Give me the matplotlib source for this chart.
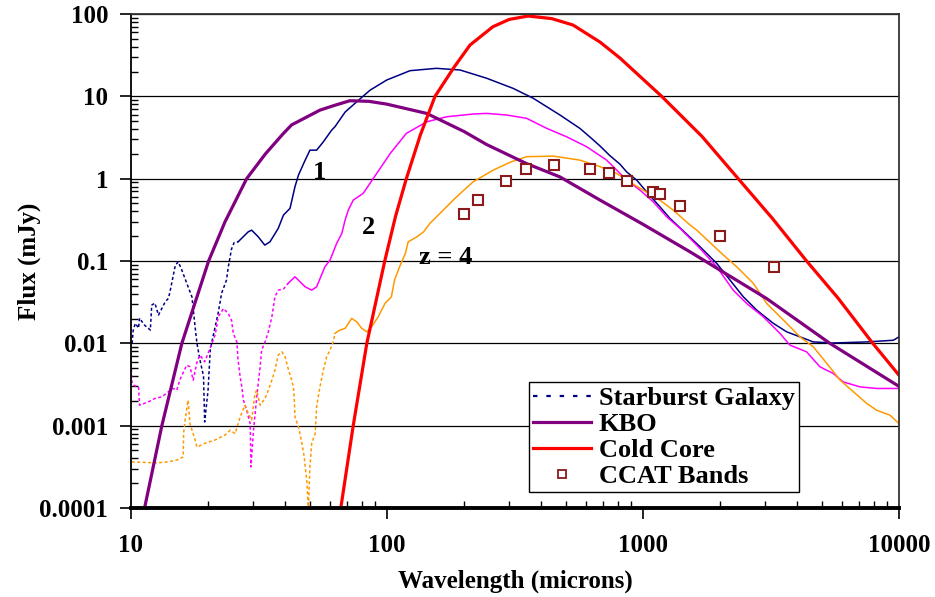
import matplotlib
matplotlib.use("Agg")
import matplotlib.pyplot as plt
import numpy as np
from matplotlib.lines import Line2D
from matplotlib.ticker import LogLocator, FuncFormatter, NullFormatter

plt.rcParams['font.family'] = ['Liberation Serif', 'DejaVu Serif']
plt.rcParams['font.weight'] = 'bold'
plt.rcParams['axes.labelweight'] = 'bold'

# starburst galaxy template, z = 1 (wavelength in microns, flux in mJy)
starburst_wl = [10.1, 10.2, 10.4, 10.7, 10.8, 11.3, 11.9, 12.05, 12.4, 12.8, 13.6, 14.0,
                14.2, 14.9, 15.3, 15.8, 16.5, 17.3, 17.8, 18.1, 18.6, 19.2, 19.4, 20.0,
                20.4, 20.9, 21.9, 22.6, 23.6, 24.0, 24.7, 25.3, 26.2, 28.7, 29.6, 31.4,
                33.3, 34.9, 37.6, 39.4, 41.8, 43.7, 45.1, 47.9, 50.0, 53.1, 56.4, 60.8,
                62.6, 68.6, 76.2, 85.9, 99.8, 123, 156, 193, 245, 311, 373, 474, 567,
                621, 679, 743, 813, 863, 945, 1033, 1164, 1274, 1670, 1941, 2188, 2466,
                2782, 3228, 3641, 4102, 4624, 5536, 7475, 9506, 10000]
starburst_flux = [0.0100, 0.0145, 0.0175, 0.0153, 0.0202, 0.0166, 0.0145, 0.0291, 0.0308,
                  0.022, 0.0319, 0.0352, 0.0423, 0.089, 0.0977, 0.0774, 0.054, 0.0367,
                  0.0159, 0.0100, 0.00625, 0.0040, 0.00111, 0.0027, 0.0083, 0.012, 0.0233,
                  0.0407, 0.0586, 0.085, 0.14, 0.168, 0.171, 0.226, 0.237, 0.197, 0.156,
                  0.171, 0.249, 0.361, 0.436, 0.798, 1.107, 1.68, 2.22, 2.22, 2.80, 3.89,
                  4.27, 6.44, 8.60, 11.9, 15.8, 20.5, 21.9, 20.9, 16.6, 12.5, 9.46, 5.93,
                  4.08, 3.2, 2.5, 1.9, 1.5, 1.21, 0.96, 0.693, 0.456, 0.33, 0.149, 0.0935,
                  0.0586, 0.0367, 0.0253, 0.0175, 0.0138, 0.012, 0.0104, 0.0101, 0.0104,
                  0.0109, 0.012]

# same template at z = 2
z2_wl = [10.0, 10.05, 10.1, 10.2, 10.7, 10.8, 11.7, 12.4, 13.2, 14.0, 14.6, 15.1, 15.5,
         16.5, 17.0, 17.5, 18.1, 18.6, 19.4, 20.0, 20.7, 21.3, 21.6, 21.9, 23.0, 24.0,
         24.7, 25.1, 25.9, 26.2, 26.7, 27.1, 27.5, 28.3, 29.2, 29.3, 29.4, 30.1, 31.0,
         31.4, 31.9, 32.4, 33.4, 34.4, 35.5, 36.0, 36.5, 37.6, 39.4, 41.1, 43.7, 47.9,
         50.8, 53.1, 57.2, 59.9, 63.6, 66.6, 68.6, 70.6, 73.8, 80.7, 91.2, 103, 119, 143,
         171, 217, 245, 294, 351, 421, 503, 603, 721, 813, 863, 973, 1096, 1238, 1395,
         1528, 1670, 1941, 2250, 2540, 2951, 3428, 3750, 4355, 4909, 5536, 6053, 7040,
         8180, 10000]
z2_flux = [0.0066, 0.0041, 0.0033, 0.0031, 0.00296, 0.00177, 0.00195, 0.00214, 0.00224,
           0.00258, 0.00283, 0.0027, 0.00357, 0.00543, 0.00519, 0.00357, 0.0059, 0.0072,
           0.00596, 0.00754, 0.00998, 0.0126, 0.0159, 0.021, 0.0265, 0.0229, 0.0191, 0.0132,
           0.0104, 0.00625, 0.0039, 0.00296, 0.00204, 0.00154, 0.00106, 0.00067, 0.000315,
           0.00088, 0.00224, 0.00326, 0.00495, 0.0083, 0.0104, 0.0138, 0.021, 0.0278, 0.0367,
           0.0443, 0.0456, 0.0535, 0.0643, 0.0486, 0.0443, 0.0486, 0.0851, 0.1026, 0.164,
           0.216, 0.314, 0.415, 0.549, 0.662, 1.16, 2.03, 3.55, 4.91, 5.65, 6.10, 6.21, 5.93,
           5.41, 4.08, 3.23, 2.44, 1.68, 1.16, 0.96, 0.726, 0.524, 0.344, 0.249, 0.188,
           0.142, 0.0851, 0.0443, 0.0305, 0.021, 0.0132, 0.0095, 0.00789, 0.00519, 0.0043,
           0.0034, 0.00296, 0.00283, 0.00283]

# same template at z = 4
z4_wl = [10.06, 12.6, 14.0, 15.3, 16.0, 16.05, 16.3, 16.7, 17.0, 17.8, 18.1, 19.4, 21.3,
         23.3, 24.4, 25.5, 26.7, 27.9, 28.7, 29.6, 30.5, 31.0, 31.9, 33.4, 34.4, 35.5, 36.5,
         37.6, 38.8, 40.0, 41.1, 42.4, 43.1, 43.5, 43.7, 45.1, 46.5, 47.5, 47.9, 48.6,
         49.0, 49.3, 50.0, 50.8, 52.4, 53.1, 54.7, 56.4, 58.1, 59.9, 61.7, 62.6, 65.5,
         68.6, 72.8, 76.2, 79.7, 83.4, 87.1, 92.4, 98.2, 104, 107, 112, 118, 121, 131, 139,
         147, 161, 187, 217, 260, 302, 351, 447, 567, 679, 789, 863, 1002, 1164, 1312, 1528,
         1622, 2061, 2323, 2698, 3042, 3641, 4102, 4624, 5224, 5888, 6637, 7482, 8180,
         9226, 10000]
z4_flux = [0.000363, 0.000353, 0.000363, 0.000388, 0.000418, 0.000804, 0.00122, 0.00204,
           0.00106, 0.00067, 0.00055, 0.00061, 0.00067, 0.00077, 0.00088, 0.0008, 0.00128,
           0.00177, 0.00141, 0.00117, 0.00246, 0.0027, 0.00177, 0.00214, 0.0027, 0.00357,
           0.00472, 0.0072, 0.00789, 0.00686, 0.00495, 0.00357, 0.00296, 0.00186, 0.00128,
           0.00097, 0.00061, 0.000418, 0.000315, 0.000218, 0.000136, 0.000103, 0.000315,
           0.00061, 0.0008, 0.00169, 0.00296, 0.00472, 0.00686, 0.0083, 0.0104, 0.0132,
           0.0145, 0.0152, 0.0201, 0.0182, 0.0152, 0.0138, 0.0159, 0.021, 0.0305, 0.0367,
           0.0586, 0.0851, 0.124, 0.171, 0.197, 0.226, 0.286, 0.379, 0.602, 0.916, 1.27,
           1.58, 1.85, 1.88, 1.68, 1.40, 1.16, 0.96, 0.726, 0.549, 0.415, 0.273, 0.237,
           0.118, 0.0851, 0.0535, 0.0305, 0.0175, 0.012, 0.00908, 0.0057, 0.00357, 0.00258,
           0.00186, 0.00154, 0.00134, 0.00106]

kbo_wl = [11.3, 13.2, 15.8, 20.1, 23.3, 28.3, 33.5, 39.4, 42.4, 54.7, 62.6, 71.6, 85,
          99.7, 143, 200, 245, 350, 474, 679, 1000, 1528, 3040, 5370, 10000]
kbo_flux = [0.0001, 0.001, 0.01, 0.1, 0.3, 1.0, 2.0, 3.55, 4.5, 6.8, 7.8, 8.85, 8.7,
            8.05, 6.2, 3.74, 2.6, 1.53, 1.05, 0.55, 0.279, 0.129, 0.035, 0.01, 0.003]

core_wl = [66, 73.8, 83.4, 98, 108, 119, 135, 154, 183, 211, 259, 300, 356, 440, 533,
           679, 813, 1183, 1700, 2355, 3200, 4355, 5780, 7900, 10000]
core_flux = [0.0001, 0.001, 0.01, 0.1, 0.35, 1.0, 3.4, 10, 22.7, 42, 70, 86, 94.6, 88,
             73.5, 45.7, 29.2, 10, 3.26, 1.0, 0.33, 0.1, 0.0354, 0.01, 0.0041]

ccat_wl = [200, 226, 292, 350, 450, 620, 735, 865, 1090, 1170, 1390, 2000, 3260]
ccat_flux = [0.368, 0.545, 0.942, 1.31, 1.48, 1.31, 1.16, 0.942, 0.687, 0.644, 0.469,
             0.202, 0.0843]

NAVY = '#000080'
MAGENTA = '#FF00FF'
ORANGE = '#FF9900'
PURPLE = '#800080'
RED = '#FF0000'
MAROON = '#8B1A1A'


def draw_sed(ax, wl, flux, split, color):
    # noisy short-wavelength part dotted, dense long-wavelength part solid
    wl = np.asarray(wl)
    flux = np.asarray(flux)
    k = np.searchsorted(wl, split)
    ax.plot(wl[:k + 1], flux[:k + 1], color=color, lw=1.1, ls=(0, (2, 1.6)))
    ax.plot(wl[k:], flux[k:], color=color, lw=1.1)


fig = plt.figure(figsize=(9.35, 5.97), dpi=100)
ax = fig.add_axes([0.1401, 0.1491, 0.8214, 0.8274])

draw_sed(ax, starburst_wl, starburst_flux, 26, NAVY)
draw_sed(ax, z2_wl, z2_flux, 40, MAGENTA)
draw_sed(ax, z4_wl, z4_flux, 62, ORANGE)
ax.plot(kbo_wl, kbo_flux, color=PURPLE, lw=2.3)
ax.plot(core_wl, core_flux, color=RED, lw=2.3)
ax.plot(ccat_wl, ccat_flux, ls='none', marker='s', ms=7, mfc='white', mec=MAROON, mew=1.5)

ax.set_xscale('log')
ax.set_yscale('log')
ax.set_xlim(10, 10000)
ax.set_ylim(0.0001, 100)

fmt = FuncFormatter(lambda v, p: '{:g}'.format(v))
ax.xaxis.set_major_locator(LogLocator(base=10, numticks=10))
ax.yaxis.set_major_locator(LogLocator(base=10, numticks=10))
ax.xaxis.set_minor_locator(LogLocator(base=10, subs=np.arange(2, 10), numticks=20))
ax.yaxis.set_minor_locator(LogLocator(base=10, subs=np.arange(2, 10), numticks=20))
ax.xaxis.set_major_formatter(fmt)
ax.yaxis.set_major_formatter(fmt)
ax.xaxis.set_minor_formatter(NullFormatter())
ax.yaxis.set_minor_formatter(NullFormatter())
ax.xaxis.offsetText.set_visible(False)
ax.yaxis.offsetText.set_visible(False)

ax.tick_params(which='major', direction='out', length=8, width=1.2, labelsize=18, colors='black')
ax.tick_params(axis='y', which='major', pad=8.5)
ax.tick_params(axis='x', which='major', pad=11)
ax.tick_params(which='minor', direction='in', length=5, width=1)

ax.yaxis.grid(True, which='major', color='black', lw=0.9)
ax.set_axisbelow(True)

ax.spines['bottom'].set_linewidth(2.8)
ax.spines['left'].set_linewidth(1.3)
for side in ('top', 'right'):
    ax.spines[side].set_color('#333333')
    ax.spines[side].set_linewidth(1.3)

ax.set_xlabel('Wavelength (microns)', fontsize=18, fontweight='bold')
ax.set_ylabel('Flux (mJy)', fontsize=18, fontweight='bold')
ax.xaxis.set_label_coords(0.5, -0.148)
ax.yaxis.set_label_coords(-0.132, 0.5)
ax.xaxis.label.set_va('center')
ax.yaxis.label.set_va('center')

ax.text(54.7, 1.2, '1', fontsize=19, ha='center', va='center')
ax.text(84.3, 0.258, '2', fontsize=19, ha='center', va='center')
ax.text(170, 0.111, 'z = 4', fontsize=19, ha='center', va='center')

handles = [
    Line2D([], [], color=NAVY, lw=1.6, ls=(0, (2, 4))),
    Line2D([], [], color=PURPLE, lw=2.3),
    Line2D([], [], color=RED, lw=2.3),
    Line2D([], [], ls='none', marker='s', ms=6, mfc='white', mec=MAROON, mew=1.3),
]
labels = ['Starburst Galaxy', 'KBO', 'Cold Core', 'CCAT Bands']
leg = ax.legend(handles, labels, loc='lower left', bbox_to_anchor=(0.518, 0.032),
                fontsize=19, frameon=True, fancybox=False, framealpha=1,
                edgecolor='black', borderpad=0.15, labelspacing=0.1,
                handlelength=2.2, handletextpad=0.3, borderaxespad=0)
leg.get_frame().set_linewidth(1.0)

fig.savefig('out.png', dpi=100)
